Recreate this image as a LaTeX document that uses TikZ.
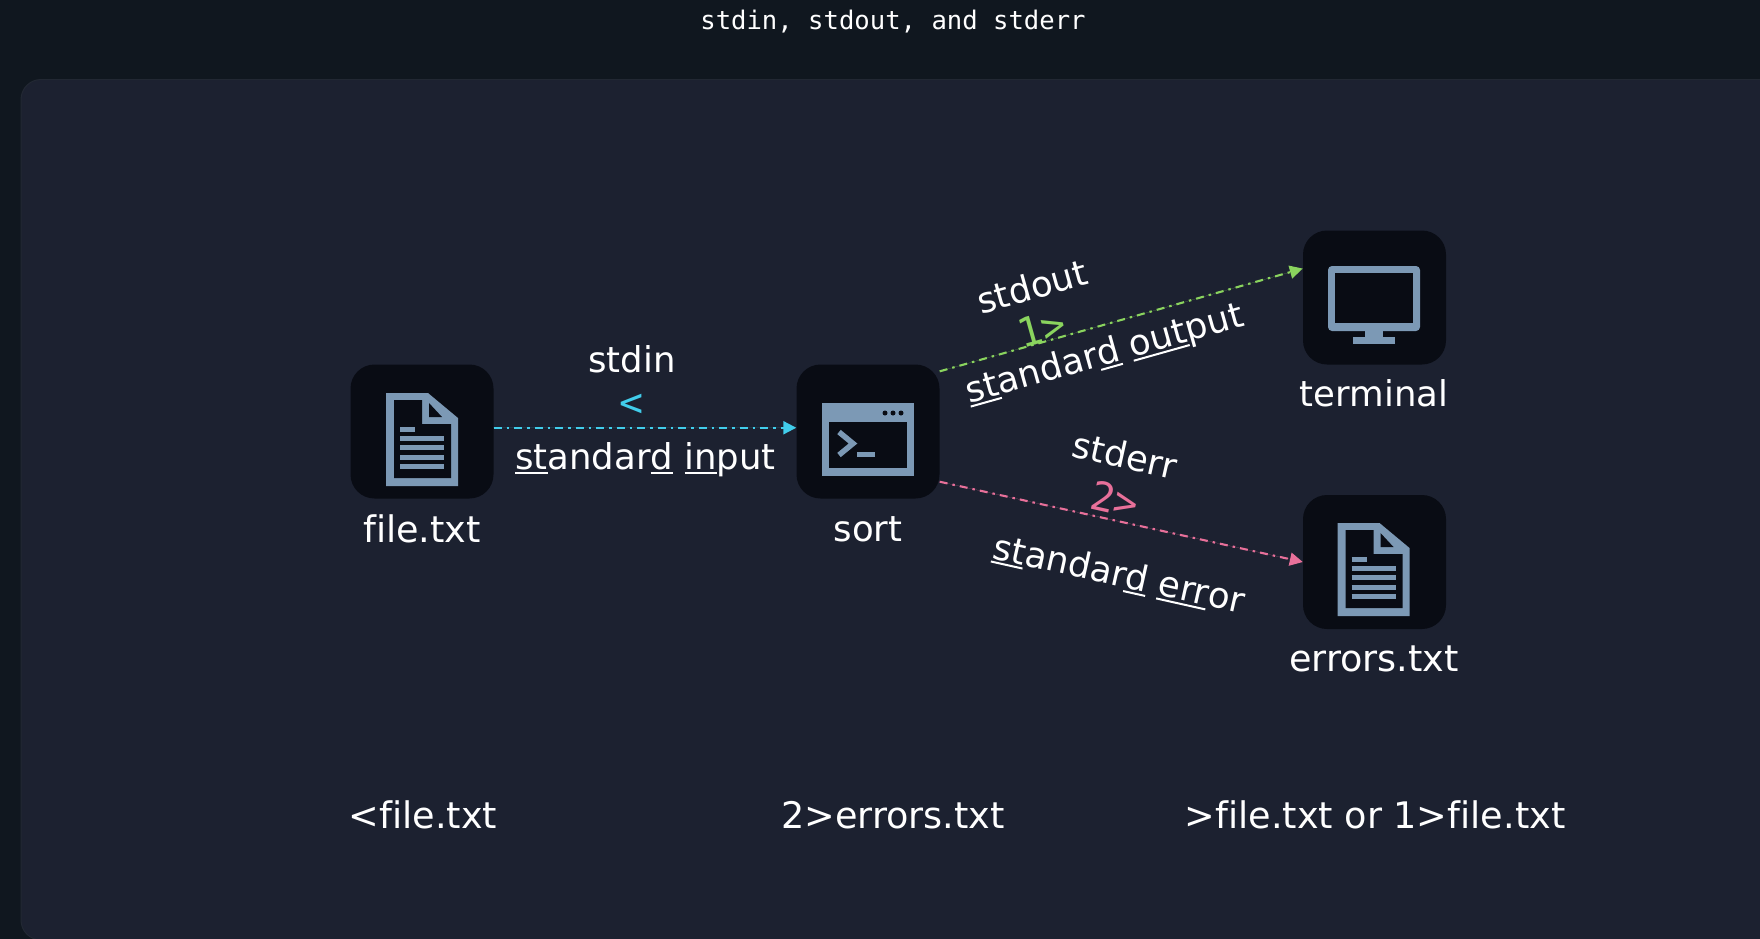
\documentclass[tikz,border=0pt]{standalone}
\usepackage{fontspec}
\setmainfont[Ligatures={NoCommon}]{DejaVu Sans}
\setmonofont{DejaVu Sans Mono}
\usetikzlibrary{arrows.meta}
\definecolor{pagebg}{HTML}{10171F}
\definecolor{panelbg}{HTML}{1C2130}
\definecolor{paneledge}{HTML}{222833}
\definecolor{boxbg}{HTML}{090C14}
\definecolor{iconc}{HTML}{7C99B5}
\definecolor{inc}{HTML}{41CDEB}
\definecolor{outc}{HTML}{8AD45E}
\definecolor{errc}{HTML}{E8709A}
\newcommand{\ulin}[1]{\setbox0=\hbox{#1}\rlap{\rule[-4.5pt]{\wd0}{2pt}}\box0\relax}
\tikzset{
  x=1pt,y=-1pt,
  iconbox/.style={fill=boxbg,draw=none,rounded corners=24pt,minimum width=143pt,minimum height=134pt,inner sep=0pt},
  lab/.style={text=white,font=\fontsize{35.5}{42}\selectfont,inner sep=0pt},
  biglab/.style={text=white,font=\fontsize{36.6}{42}\selectfont,inner sep=0pt},
  codelab/.style={font=\ttfamily\fontsize{40}{46}\selectfont,inner sep=0pt},
  flow/.style={line width=2.1pt,dash pattern=on 8pt off 5pt on 2.5pt off 5pt,-{Triangle[length=13pt,width=13pt]}},
  iconline/.style={draw=iconc,line width=5pt},
}
\newcommand{\docicon}[2]{%
  \begin{scope}[shift={(#1,#2)}]
    \fill[iconc] (-36,-46.5) -- (6,-46.5) -- (36,-21.5) -- (36,46.5) -- (-36,46.5) -- cycle;
    \fill[boxbg] (-28,-39.5) -- (0,-39.5) -- (0,-15.5) -- (29,-15.5) -- (29,38.5) -- (-28,38.5) -- cycle;
    \fill[boxbg] (7,-36.5) -- (20,-22.5) -- (7,-22.5) -- cycle;
    \draw[iconline] (-22,-10.5) -- (-7,-10.5);
    \foreach \yy in {-1.5,7.5,17.5,26.5} \draw[iconline] (-22,\yy) -- (22,\yy);
  \end{scope}}
\begin{document}
\begin{tikzpicture}
\useasboundingbox (0,0) rectangle (1760,938);
\fill[pagebg] (-3,-3) rectangle (1763,941);
\fill[panelbg,draw=paneledge,line width=1pt,rounded corners=20pt] (21,79.5) rectangle (1800,940);
\node[text=white,font=\ttfamily\fontsize{25.6}{30}\selectfont,inner sep=0pt] (title) at (893,22) {stdin, stdout, and stderr};

\node[iconbox] (file) at (422,431.5) {};
\node[iconbox] (sort) at (868,431.5) {};
\node[iconbox] (term) at (1374.5,297.5) {};
\node[iconbox] (errs) at (1374.5,562) {};

\docicon{422}{439.5}
\docicon{1373.5}{569.5}

% terminal window icon
\fill[iconc] (822,403) rectangle (914,476);
\fill[boxbg] (829,422) rectangle (907,468);
\foreach \xx in {885,893,901} \fill[boxbg] (\xx,413) circle (2.5);
\draw[iconc,line width=5.5pt] (839,432) -- (853,443.5) -- (839,455);
\draw[iconc,line width=5pt] (857,454) -- (875,454);

% monitor icon
\fill[iconc,rounded corners=4pt] (1328,266) rectangle (1420,331);
\fill[boxbg] (1335,273) rectangle (1413,323);
\fill[iconc] (1365,330) rectangle (1383,338);
\fill[iconc] (1353,337) rectangle (1395,344);

\node[biglab] (lfile) at (422,529) {file.txt};
\node[lab] (lsort) at (868,529) {sort};
\node[lab] (lterm) at (1374,393) {terminal};
\node[biglab] (lerrs) at (1374,659) {errors.txt};

\draw[flow,draw=inc,fill=inc] (file.3) -- (sort.177);
\draw[flow,draw=outc,fill=outc] (sort.40) -- (term.158);
\draw[flow,draw=errc,fill=errc] (sort.-35) -- (errs.west);

\node[lab] (a1) at (632,359) {stdin};
\node[codelab,text=inc] (a2) at (632,405) {<};
\node[lab] (a3) at (645.5,460) {\ulin{st}andar\ulin{d} \ulin{in}put};

\node[lab,rotate=15.7] (b1) at (1032,286) {stdout};
\node[codelab,text=outc,rotate=15.7] (b2) at (1042,328) {1>};
\node[lab,rotate=15.7] (b3) at (1105,355) {\ulin{st}andar\ulin{d} \ulin{out}put};

\node[lab,rotate=-12.6] (c1) at (1125,455) {stderr};
\node[codelab,text=errc,rotate=-12.6] (c2) at (1115,499) {2>};
\node[lab,rotate=-12.6] (c3) at (1119,575) {\ulin{st}andar\ulin{d} \ulin{err}or};

\node[biglab] (d1) at (423,815) {<file.txt};
\node[biglab] (d2) at (893,815) {2>errors.txt};
\node[biglab] (d3) at (1375,815) {>file.txt or 1>file.txt};
\end{tikzpicture}
\end{document}
